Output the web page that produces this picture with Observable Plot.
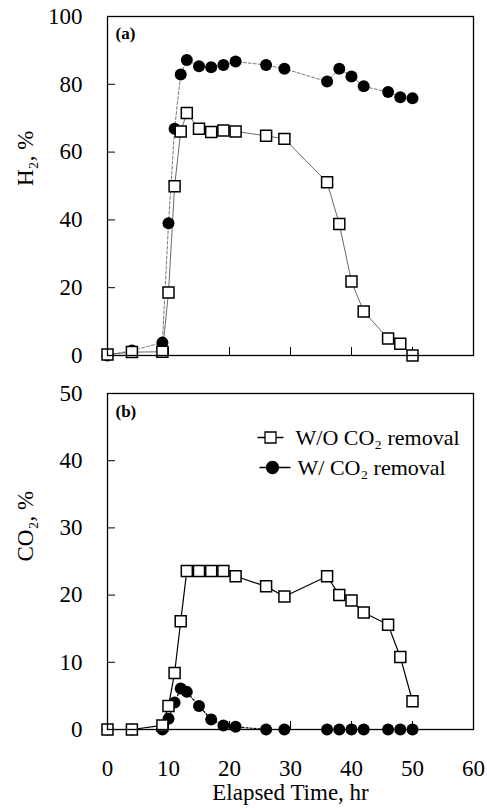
<!DOCTYPE html>
<html>
<head>
<meta charset="utf-8">
<script src="https://cdn.jsdelivr.net/npm/d3@7"></script>
<script src="https://cdn.jsdelivr.net/npm/@observablehq/plot@0.6"></script>
<style>
  body { margin: 0; background: #fff; font-family: "Liberation Serif", serif; }
  #chart svg { display: block; }
</style>
</head>
<body>
<div id="chart"></div>
<script>
// ---- data ----
const times      = [0, 4, 9, 10, 11, 12, 13, 15, 17, 19, 21, 26, 29, 36, 38, 40, 42, 46, 48, 50];
const h2Without  = [0.3, 1, 1.1, 18.6, 49.9, 66.1, 71.5, 66.9, 65.9, 66.4, 66.1, 64.8, 63.9, 51.1, 38.8, 21.8, 13, 5, 3.5, 0];
const h2With     = [0, 1.5, 3.8, 39, 66.9, 82.9, 87.2, 85.3, 85, 85.7, 86.7, 85.7, 84.6, 80.8, 84.6, 82.3, 79.4, 77.7, 76.2, 75.9];
const co2Without = [0, 0, 0.6, 3.5, 8.4, 16.1, 23.6, 23.6, 23.6, 23.6, 22.8, 21.3, 19.8, 22.8, 20.0, 19.2, 17.4, 15.6, 10.8, 4.2];
const co2With    = [0, 0, 0, 1.6, 4.0, 6.1, 5.6, 3.5, 1.5, 0.6, 0.4, 0, 0, 0, 0, 0, 0, 0, 0, 0];
const timeTicks  = [0, 10, 20, 30, 40, 50, 60];
const h2Ticks    = [0, 20, 40, 60, 80, 100];
const co2Ticks   = [0, 10, 20, 30, 40, 50];
const seriesNames = ["W/O CO\u2082 removal", "W/ CO\u2082 removal"];

// ---- layout ----
const W = 487, mL = 107, mR = 14;
const fw = W - mL - mR;
const font = "Liberation Serif, Times New Roman, serif";
const rows = ys => times.map((t, i) => ({t, v: ys[i]}));

// legend symbols: marker with line stubs
const squareLeg = {draw(ctx, size) {
  const s = Math.sqrt(size) / 2;
  ctx.moveTo(-13, 0); ctx.lineTo(-s, 0);
  ctx.moveTo(-s, -s); ctx.lineTo(s, -s); ctx.lineTo(s, s); ctx.lineTo(-s, s); ctx.closePath();
  ctx.moveTo(s, 0); ctx.lineTo(13, 0);
}};
const circleLeg = {draw(ctx, size) {
  const r = Math.sqrt(size / Math.PI);
  ctx.moveTo(-13, 0); ctx.lineTo(-r, 0);
  ctx.moveTo(r, 0); ctx.arc(0, 0, r, 0, 2 * Math.PI);
  ctx.moveTo(r, 0); ctx.lineTo(18, 0);
}};

const topPlot = Plot.plot({
  width: W, height: 375,
  marginLeft: mL, marginRight: mR, marginTop: 16, marginBottom: 20,
  style: {fontFamily: font, fontSize: "23px", background: "white", color: "black"},
  x: {domain: [0, 60], axis: null},
  y: {domain: [0, 100]},
  marks: [
    Plot.axisY({ticks: h2Ticks, tickSize: 0, tickPadding: 25, label: null, fontFamily: font, fontSize: 23}),
    Plot.tickY(h2Ticks, {y: d => d, insetRight: fw - 8, stroke: "black"}),
    Plot.tickX(timeTicks, {x: d => d, insetTop: 339 - 8, stroke: "black"}),
    Plot.line(rows(h2With), {x: "t", y: "v", stroke: "#555", strokeWidth: 0.8, strokeDasharray: "3,2"}),
    Plot.line(rows(h2Without), {x: "t", y: "v", stroke: "#444", strokeWidth: 0.8}),
    Plot.dot(rows(h2With), {x: "t", y: "v", r: 6, fill: "black"}),
    Plot.dot(rows(h2Without), {x: "t", y: "v", r: 6.2, symbol: "square", fill: "white", stroke: "black", strokeWidth: 1.5}),
    Plot.frame({stroke: "black", strokeWidth: 1.3}),
    Plot.text(["(a)"], {x: null, y: null, text: d => d, frameAnchor: "top-left", dx: 8, dy: 17, lineAnchor: "middle", fontWeight: "bold", fontSize: 17, textAnchor: "start", fontFamily: font}),
    Plot.text(["H\u2082, %"], {x: null, y: null, text: d => d, frameAnchor: "left", dx: -82, rotate: -90, lineAnchor: "middle", fontSize: 23, fontFamily: font})
  ]
});

const bottomPlot = Plot.plot({
  width: W, height: 437,
  marginLeft: mL, marginRight: mR, marginTop: 18, marginBottom: 83,
  style: {fontFamily: font, fontSize: "23px", background: "white", color: "black"},
  x: {domain: [0, 60]},
  y: {domain: [0, 50]},
  marks: [
    Plot.axisY({ticks: co2Ticks, tickSize: 0, tickPadding: 25, label: null, fontFamily: font, fontSize: 23}),
    Plot.axisX({ticks: timeTicks, tickSize: 0, tickPadding: 30, label: null, fontFamily: font, fontSize: 23}),
    Plot.tickY(co2Ticks, {y: d => d, insetRight: fw - 8, stroke: "black"}),
    Plot.tickX(timeTicks, {x: d => d, insetTop: 336 - 8, stroke: "black"}),
    Plot.line(rows(co2With), {x: "t", y: "v", stroke: "black", strokeWidth: 1.2, strokeDasharray: "2,2"}),
    Plot.line(rows(co2Without), {x: "t", y: "v", stroke: "black", strokeWidth: 1.2}),
    Plot.dot(rows(co2With), {x: "t", y: "v", r: 6, fill: "black"}),
    Plot.dot(rows(co2Without), {x: "t", y: "v", r: 6.2, symbol: "square", fill: "white", stroke: "black", strokeWidth: 1.5}),
    Plot.frame({stroke: "black", strokeWidth: 1.3}),
    Plot.text(["(b)"], {x: null, y: null, text: d => d, frameAnchor: "top-left", dx: 8, dy: 18, lineAnchor: "middle", fontWeight: "bold", fontSize: 17, textAnchor: "start", fontFamily: font}),
    Plot.text(["CO\u2082, %"], {x: null, y: null, text: d => d, frameAnchor: "left", dx: -82, rotate: -90, lineAnchor: "middle", fontSize: 23, fontFamily: font}),
    Plot.text(["Elapsed Time, hr"], {x: null, y: null, text: d => d, frameAnchor: "bottom", dy: 63, lineAnchor: "middle", fontSize: 23, fontFamily: font}),
    // legend
    Plot.dot([seriesNames[0]], {x: null, y: null, frameAnchor: "top-left", dx: 163, dy: 44, r: 6.2, symbol: squareLeg, fill: "white", stroke: "black", strokeWidth: 1.3}),
    Plot.dot([seriesNames[1]], {x: null, y: null, frameAnchor: "top-left", dx: 165, dy: 74, r: 6, symbol: circleLeg, fill: "black", stroke: "black", strokeWidth: 1.3}),
    Plot.text([seriesNames[0]], {x: null, y: null, text: d => d, frameAnchor: "top-left", dx: 188, dy: 44, lineAnchor: "middle", textAnchor: "start", fontSize: 22, fontFamily: font}),
    Plot.text([seriesNames[1]], {x: null, y: null, text: d => d, frameAnchor: "top-left", dx: 190, dy: 74, lineAnchor: "middle", textAnchor: "start", fontSize: 22, fontFamily: font})
  ]
});

const chart = document.getElementById("chart");
chart.appendChild(topPlot);
chart.appendChild(bottomPlot);
</script>
</body>
</html>
